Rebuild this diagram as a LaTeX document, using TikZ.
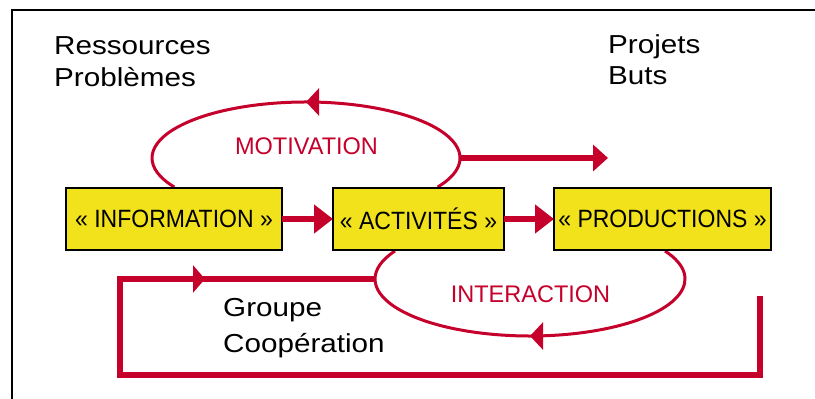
\documentclass[tikz,border=0pt]{standalone}
\usepackage{fontspec}
\setmainfont{Liberation Sans}
\newfontfamily\blackfont[FakeStretch=1.14]{Liberation Sans}
\newfontfamily\redfont[FakeStretch=0.98]{Liberation Sans}
\newfontfamily\boxfont[FakeStretch=0.92]{Liberation Sans}
\usetikzlibrary{arrows.meta,shapes.geometric,decorations.markings}
\definecolor{tred}{RGB}{196,0,43}
\definecolor{tyellow}{RGB}{242,226,27}
\begin{document}
\begin{tikzpicture}[x=1pt,y=1pt,
  lbl/.style={anchor=base west, inner sep=0pt, font=\blackfont\fontsize{26}{30}\selectfont, text=black},
  rlbl/.style={anchor=base, inner sep=0pt, font=\redfont\fontsize{24}{28}\selectfont, text=tred},
  stage/.style={draw=black, line width=2pt, fill=tyellow, minimum height=62pt, inner sep=0pt, outer sep=0pt, font=\boxfont\fontsize{25}{29}\selectfont},
  loopshape/.style={ellipse, draw=none, inner sep=0pt, outer sep=0pt},
  redarc/.style={draw=tred, line width=3pt},
  thickarrow/.style={draw=tred, line width=6pt, -{Triangle[length=19pt,width=28pt]}},
  midhead/.style={postaction={decorate}, decoration={markings, mark=at position #1 with {\arrow[tred]{Triangle[length=13pt,width=27pt]}}}},
  frameline/.style={draw=black, line width=2.5pt}
]
\useasboundingbox (0,0) rectangle (815,399);

% frame
\coordinate (f1) at (12,-5);
\coordinate (f2) at (12,389);
\coordinate (f3) at (820,389);
\draw[frameline] (f1) -- (f2) -- (f3);

% labels
\node[lbl] (res) at (54,344) {Ressources};
\node[lbl] (pro) at (54,312) {Problèmes};
\node[lbl] (proj) at (608,345) {Projets};
\node[lbl] (buts) at (608,314) {Buts};
\node[lbl] (grp) at (223,82) {Groupe};
\node[lbl] (coop) at (223,46) {Coopération};

% ellipses (invisible reference shapes)
\node[loopshape, minimum width=308pt, minimum height=112pt] (mot) at (306,241) {};
\node[loopshape, minimum width=310pt, minimum height=114pt] (int) at (530,120) {};

% motivation arc
\draw[redarc, midhead=0.5] ([shift={(-31.2:154pt and 56pt)}]mot.center)
  arc[start angle=-31.2, end angle=211.2, x radius=154pt, y radius=56pt];
% interaction arc
\draw[redarc, midhead=0.5] ([shift={(29.4:155pt and 57pt)}]int.center)
  arc[start angle=389.4, end angle=150.6, x radius=155pt, y radius=57pt];

\node[rlbl] (motl) at (306.5,244) {MOTIVATION};
\node[rlbl] (intl) at (530.5,96) {INTERACTION};

% stages
\node[stage, minimum width=216pt] (info) at (174,180) {« INFORMATION »};
\node[stage, minimum width=171pt] (act) at (418.5,180) {« ACTIVITÉS »};
\node[stage, minimum width=217pt] (prod) at (662.5,180) {« PRODUCTIONS »};

\draw[thickarrow] (info) -- (act);
\draw[thickarrow] (act) -- (prod);

% motivation to projets
\coordinate (motend) at (608,241);
\draw[draw=tred, line width=6pt, -{Triangle[length=15pt,width=26pt]}] (mot.east) -- (motend);

% feedback loop
\coordinate (lstart) at (760,103);
\coordinate (lc1) at (760,24);
\coordinate (lc2) at (120,24);
\coordinate (lc3) at (120,120);
\draw[draw=tred, line width=6pt, postaction={decorate},
  decoration={markings, mark=at position -170pt with {\arrow[tred]{Triangle[length=12pt,width=27pt]}}}]
  (lstart) -- (lc1) -- (lc2) -- (lc3) -- (int.west);
\end{tikzpicture}
\end{document}
